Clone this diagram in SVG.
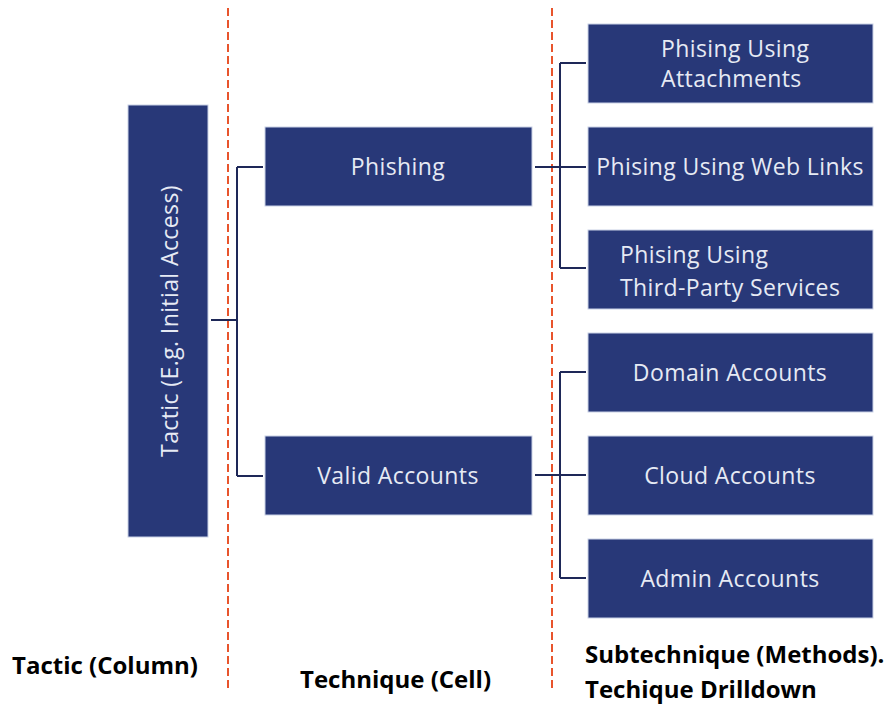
<svg xmlns="http://www.w3.org/2000/svg" width="885" height="704" viewBox="0 0 885 704">
  <style>
    .box { fill: #283878; stroke: #c9d1e6; stroke-width: 1; }
    .lbl { fill: #e6eaf4; font-family: "Open Sans", "Noto Sans", sans-serif; font-size: 23px; letter-spacing: 0.4px; text-anchor: middle; dominant-baseline: central; }
    .lft { text-anchor: start; }
    .cap { fill: #000; font-family: "Open Sans", "Noto Sans", sans-serif; font-size: 24px; font-weight: bold; }
    .divider { stroke: #e8542c; stroke-width: 2; stroke-dasharray: 8 4; fill: none; }
    .link { stroke: #1e2858; stroke-width: 2; fill: none; }
  </style>
  <rect width="885" height="704" fill="#ffffff"/>

  <!-- column dividers -->
  <g id="dividers">
    <line class="divider" x1="228" y1="8" x2="228" y2="692"/>
    <line class="divider" x1="552" y1="8" x2="552" y2="692"/>
  </g>

  <!-- tree connectors -->
  <g id="connectors">
    <path class="link" d="M211,320 H237 M237,167 V476 M237,167 H263 M237,476 H263"/>
    <path class="link" d="M535,167 H586 M560,63 V268 M560,63 H586 M560,268 H586"/>
    <path class="link" d="M535,475 H586 M560,372 V578 M560,372 H586 M560,578 H586"/>
  </g>

  <g id="tactic">
    <rect class="box" x="128" y="105" width="80" height="432"/>
    <text class="lbl" transform="translate(169,321) rotate(-90)">Tactic (E.g. Initial Access)</text>
  </g>

  <g id="phishing">
    <rect class="box" x="265" y="127" width="267" height="79"/>
    <text class="lbl" x="398" y="166">Phishing</text>
  </g>
  <g id="valid-accounts">
    <rect class="box" x="265" y="436" width="267" height="79"/>
    <text class="lbl" x="398" y="475">Valid Accounts</text>
  </g>

  <g id="sub-attachments">
    <rect class="box" x="588" y="24" width="285" height="79"/>
    <text class="lbl lft" x="661" y="48">Phising Using</text>
    <text class="lbl lft" x="661" y="78">Attachments</text>
  </g>
  <g id="sub-weblinks">
    <rect class="box" x="588" y="127" width="285" height="79"/>
    <text class="lbl" x="730" y="166">Phising Using Web Links</text>
  </g>
  <g id="sub-thirdparty">
    <rect class="box" x="588" y="230" width="285" height="79"/>
    <text class="lbl lft" x="620" y="254">Phising Using</text>
    <text class="lbl lft" x="620" y="287">Third-Party Services</text>
  </g>
  <g id="sub-domain">
    <rect class="box" x="588" y="333" width="285" height="79"/>
    <text class="lbl" x="730" y="372">Domain Accounts</text>
  </g>
  <g id="sub-cloud">
    <rect class="box" x="588" y="436" width="285" height="79"/>
    <text class="lbl" x="730" y="475">Cloud Accounts</text>
  </g>
  <g id="sub-admin">
    <rect class="box" x="588" y="539" width="285" height="79"/>
    <text class="lbl" x="730" y="578">Admin Accounts</text>
  </g>

  <!-- column captions -->
  <g id="captions">
    <text class="cap" x="12" y="674">Tactic (Column)</text>
    <text class="cap" x="300" y="688">Technique (Cell)</text>
    <text class="cap" x="585" y="663">Subtechnique (Methods).</text>
    <text class="cap" x="585" y="698">Techique Drilldown</text>
  </g>
</svg>
